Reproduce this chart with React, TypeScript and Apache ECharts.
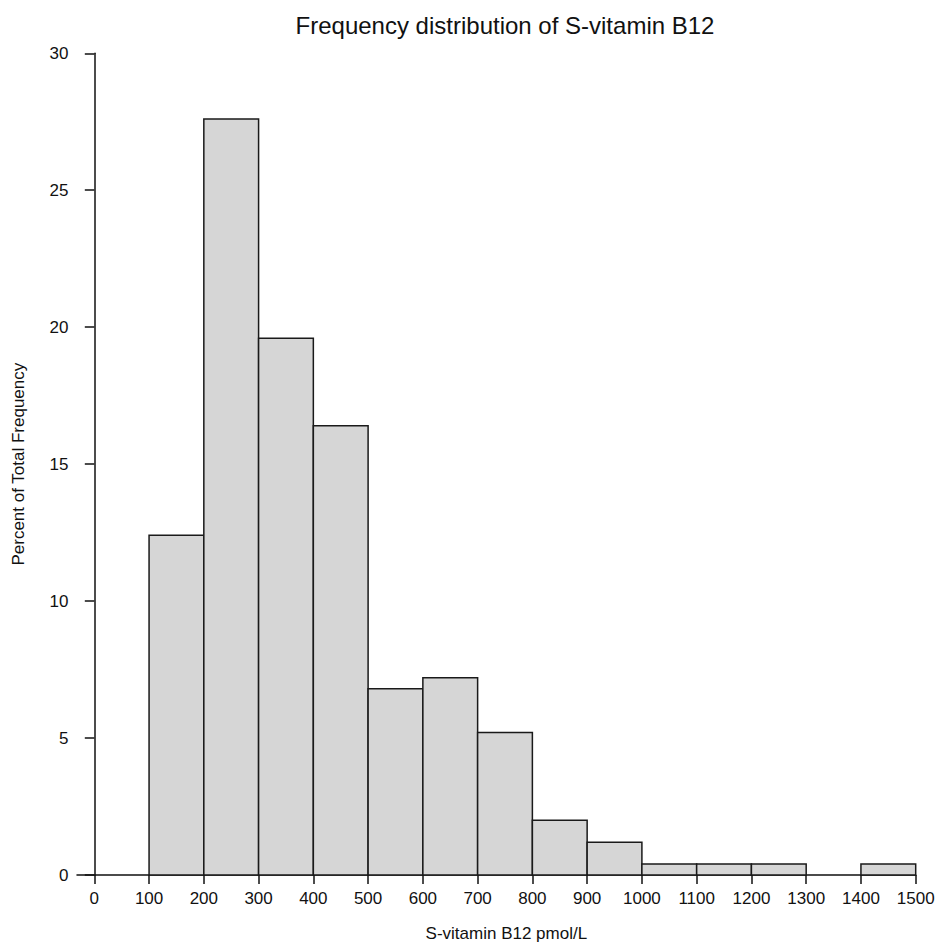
import React, { useEffect, useRef } from "react";
import * as echarts from "echarts";

const binStarts = [100, 200, 300, 400, 500, 600, 700, 800, 900, 1000, 1100, 1200, 1300, 1400];
const binEnds = [200, 300, 400, 500, 600, 700, 800, 900, 1000, 1100, 1200, 1300, 1400, 1500];
const percents = [12.4, 27.6, 19.6, 16.4, 6.8, 7.2, 5.2, 2.0, 1.2, 0.4, 0.4, 0.4, 0, 0.4];
const xTickValues = [0, 100, 200, 300, 400, 500, 600, 700, 800, 900, 1000, 1100, 1200, 1300, 1400, 1500];

const FONT = 'Arial, "Liberation Sans", Helvetica, sans-serif';
const INK = "#111111";

export default function App() {
  const ref = useRef<HTMLDivElement>(null);
  useEffect(() => {
    if (!ref.current) return;
    const chart = echarts.init(ref.current, undefined, { renderer: "svg" });
    const data = binStarts.map((s, i) => [s, binEnds[i], percents[i]]);
    chart.setOption({
      animation: false,
      backgroundColor: "#ffffff",
      title: {
        text: "Frequency distribution of S-vitamin B12",
        left: 500,
        textAlign: "center",
        top: 8,
        textStyle: { fontFamily: FONT, fontSize: 24, fontWeight: "normal", color: INK },
      },
      grid: {
        left: 77,
        right: 19.3,
        top: 53.3,
        bottom: 71,
        containLabel: false,
        outerBoundsMode: "none",
      },
      xAxis: {
        type: "value",
        min: -31.6,
        max: 1500,
        name: "S-vitamin B12 pmol/L",
        nameLocation: "middle",
        nameGap: 50,
        nameTextStyle: { fontFamily: FONT, fontSize: 17, color: INK, padding: [0, 0, 0, 20] },
        axisLine: { show: true, lineStyle: { color: INK, width: 1.5 } },
        axisTick: { show: true, length: 9, customValues: xTickValues, lineStyle: { color: INK, width: 1.5 } },
        axisLabel: {
          customValues: xTickValues,
          margin: 15,
          fontFamily: FONT,
          fontSize: 17,
          color: INK,
          formatter: (v: number) => String(v),
        },
        splitLine: { show: false },
      },
      yAxis: {
        type: "value",
        min: 0,
        max: 30,
        interval: 5,
        offset: -9.5,
        name: "Percent of Total Frequency",
        nameLocation: "middle",
        nameGap: 60,
        nameTextStyle: { fontFamily: FONT, fontSize: 17, color: INK },
        axisLine: { show: true, lineStyle: { color: INK, width: 1.5 } },
        axisTick: { show: true, length: 9.5, lineStyle: { color: INK, width: 1.5 } },
        axisLabel: { margin: 18, fontFamily: FONT, fontSize: 17, color: INK, formatter: (v: number) => String(v) },
        splitLine: { show: false },
      },
      series: [
        {
          type: "custom",
          data,
          encode: { x: [0, 1], y: 2 },
          renderItem: (params: any, api: any) => {
            const lo = api.value(0);
            const hi = api.value(1);
            const v = api.value(2);
            if (!v) return null;
            const p0 = api.coord([lo, 0]);
            const p1 = api.coord([hi, v]);
            return {
              type: "rect",
              shape: { x: p0[0], y: p1[1], width: p1[0] - p0[0], height: p0[1] - p1[1] },
              style: { fill: "#d6d6d6", stroke: "#1a1a1a", lineWidth: 1.5 },
            };
          },
        },
      ],
    });
    return () => chart.dispose();
  }, []);
  return (
    <div
      ref={ref}
      style={{ position: "fixed", left: 0, top: 0, width: 935, height: 946, background: "#fff" }}
    />
  );
}
